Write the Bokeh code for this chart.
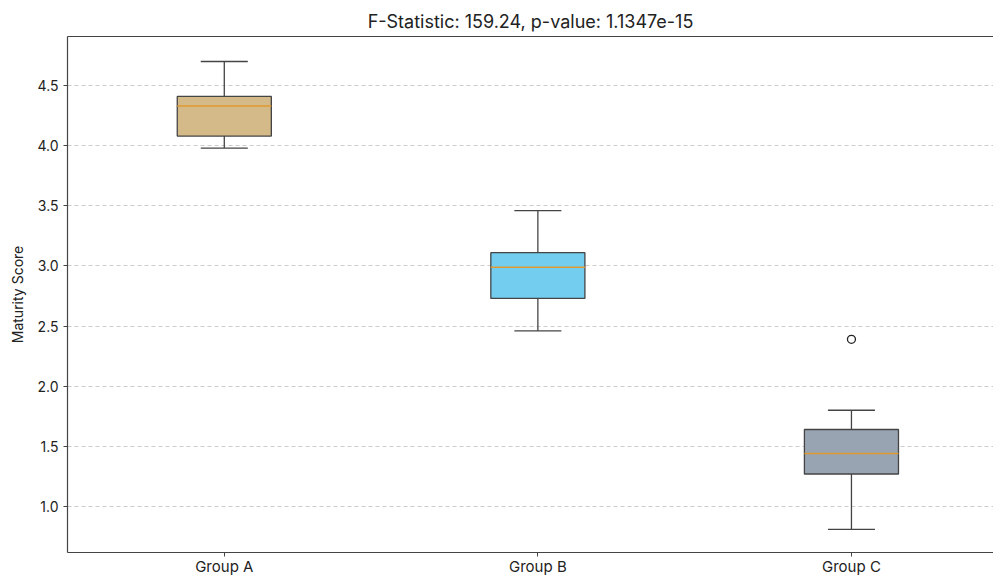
from bokeh.plotting import figure
from bokeh.models import ColumnDataSource, FixedTicker, PrintfTickFormatter, Range1d, LinearAxis
from bokeh.embed import file_html
from bokeh.resources import INLINE

groups = ["Group A", "Group B", "Group C"]
q1 = [4.08, 2.73, 1.27]
median = [4.33, 2.99, 1.44]
q3 = [4.41, 3.11, 1.64]
whisker_low = [3.98, 2.46, 0.81]
whisker_high = [4.70, 3.46, 1.80]
colors = ["#d4ba88", "#72cdef", "#98a4b1"]
outlier_group = ["Group C"]
outlier_value = [2.39]
title_text = "F-Statistic: 159.24, p-value: 1.1347e-15"
y_label = "Maturity Score"
y_ticks = [1.0, 1.5, 2.0, 2.5, 3.0, 3.5, 4.0, 4.5]

FONT = "Inter"
pos = [i + 1 for i in range(len(groups))]
bw = 0.15
cw = 0.075

src = ColumnDataSource(dict(
    x=pos, left=[p - bw for p in pos], right=[p + bw for p in pos],
    cl=[p - cw for p in pos], cr=[p + cw for p in pos],
    q1=q1, q3=q3, med=median, lo=whisker_low, hi=whisker_high, color=colors,
))

p = figure(width=993, height=578, output_backend="svg", toolbar_location=None,
           x_range=Range1d(0.5, 3.453), y_range=Range1d(0.617, 4.908),
           min_border_left=67, min_border_right=0, min_border_top=36, min_border_bottom=20)

p.title.text = title_text
p.title.align = "center"
p.title.offset = 7
p.title.text_font = FONT
p.title.text_font_style = "normal"
p.title.text_font_size = "18px"
p.title.text_color = "#222222"

edge = "#444444"
p.segment(x0="x", y0="q3", x1="x", y1="hi", source=src, line_color=edge, line_width=1.3)
p.segment(x0="x", y0="lo", x1="x", y1="q1", source=src, line_color=edge, line_width=1.3)
p.segment(x0="cl", y0="hi", x1="cr", y1="hi", source=src, line_color=edge, line_width=1.3)
p.segment(x0="cl", y0="lo", x1="cr", y1="lo", source=src, line_color=edge, line_width=1.3)
p.quad(left="left", right="right", bottom="q1", top="q3", source=src,
       fill_color="color", line_color=edge, line_width=1.3)
p.segment(x0="left", y0="med", x1="right", y1="med", source=src, line_color="#e09a30", line_width=1.5)

ox = [pos[groups.index(g)] for g in outlier_group]
p.scatter(ox, outlier_value, marker="circle", size=8, fill_color=None, line_color="#222222", line_width=1.3)

p.xgrid.visible = False
p.ygrid.grid_line_color = "#cccccc"
p.ygrid.grid_line_dash = "4 3"
p.ygrid.grid_line_width = 1
p.ygrid.ticker = FixedTicker(ticks=y_ticks)

p.xaxis.ticker = FixedTicker(ticks=pos)
p.xaxis.major_label_overrides = {pp: g for pp, g in zip(pos, groups)}
p.yaxis.ticker = FixedTicker(ticks=y_ticks)
p.yaxis.formatter = PrintfTickFormatter(format="%.1f")
p.yaxis.axis_label = y_label

for ax in (p.xaxis, p.yaxis):
    ax.major_label_text_font = FONT
    ax.major_label_text_color = "#222222"
    ax.axis_label_text_font = FONT
    ax.axis_label_text_font_size = "14px"
    ax.axis_label_text_font_style = "normal"
    ax.axis_label_text_color = "#222222"
    ax.minor_tick_line_color = None
    ax.major_tick_out = 4
    ax.major_tick_in = 0
    ax.major_tick_line_color = "#444444"
    ax.axis_line_color = "#444444"
    ax.axis_line_width = 1.2
    ax.axis_label_standoff = 8
p.xaxis.major_label_text_font_size = "15px"
p.xaxis.major_label_standoff = 0
p.yaxis.major_label_text_font_size = "14px"

top_axis = LinearAxis(ticker=FixedTicker(ticks=[]), major_label_text_font_size="0px",
                      axis_line_color="#444444", axis_line_width=1.2,
                      major_tick_line_color=None, minor_tick_line_color=None)
p.add_layout(top_axis, "above")

p.outline_line_color = None

open("out.html", "w").write(file_html(p, INLINE))
